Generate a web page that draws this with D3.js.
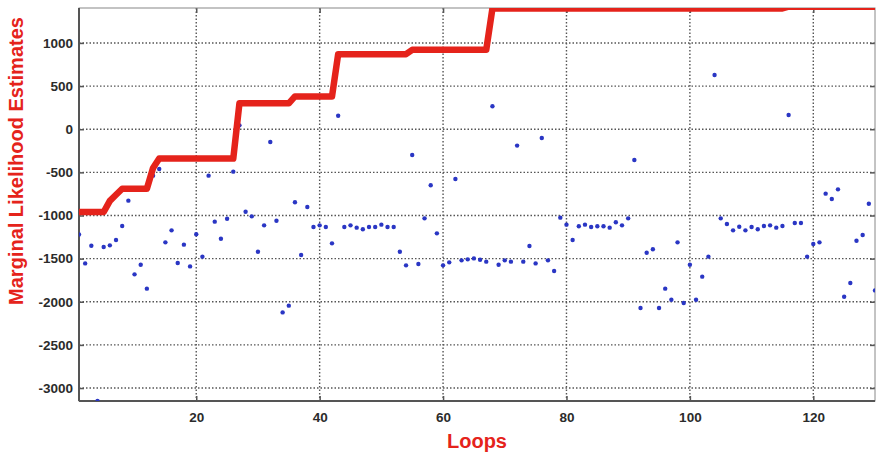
<!DOCTYPE html>
<html>
<head>
<meta charset="utf-8">
<script src="https://cdn.jsdelivr.net/npm/d3@7"></script>
<style>
  html, body { margin: 0; padding: 0; background: #fff; }
  svg { display: block; font-family: "Liberation Sans", Arial, sans-serif; }
</style>
</head>
<body>
<div id="chart"></div>
<script>
// Loop index for every estimate
const loops = d3.range(1, 131);

// Best marginal likelihood so far (red line), one value per loop
const bestEstimates = [
  -960, -960, -960, -960, -960, -830, -760, -690, -690, -690,
  -690, -690, -450, -340, -340, -340, -340, -340, -340, -340,
  -340, -340, -340, -340, -340, -340, 300, 300, 300, 300,
  300, 300, 300, 300, 300, 380, 380, 380, 380, 380,
  380, 380, 870, 870, 870, 870, 870, 870, 870, 870,
  870, 870, 870, 870, 920, 920, 920, 920, 920, 920,
  920, 920, 920, 920, 920, 920, 920, 1400, 1400, 1400,
  1400, 1400, 1400, 1400, 1400, 1400, 1400, 1400, 1400, 1400,
  1400, 1400, 1400, 1400, 1400, 1400, 1400, 1400, 1400, 1400,
  1400, 1400, 1400, 1400, 1400, 1400, 1400, 1400, 1400, 1400,
  1400, 1400, 1400, 1400, 1400, 1400, 1400, 1400, 1400, 1400,
  1400, 1400, 1400, 1400, 1400, 1420, 1420, 1420, 1420, 1420,
  1420, 1420, 1420, 1420, 1420, 1420, 1420, 1420, 1420, 1420
];

// Estimate of each loop (blue points)
const loopEstimates = [
  -1220, -1555, -1350, -3150, -1365, -1346, -1284, -1122, -828, -1682,
  -1570, -1848, -538, -461, -1311, -1172, -1551, -1338, -1590, -1218,
  -1477, -538, -1071, -1269, -1037, -492, 45, -956, -1010, -1420,
  -1114, -148, -1060, -2123, -2045, -847, -1458, -902, -1133, -1114,
  -1133, -1323, 157, -1133, -1114, -1141, -1160, -1133, -1133, -1106,
  -1133, -1133, -1420, -1578, -299, -1562, -1033, -650, -1207, -1578,
  -1543, -577, -1520, -1508, -1497, -1512, -1535, 266, -1570, -1520,
  -1535, -190, -1535, -1354, -1555, -101, -1520, -1643, -1025, -1106,
  -1284, -1125, -1106, -1133, -1125, -1125, -1141, -1079, -1114, -1033,
  -357, -2072, -1431, -1392, -2072, -1848, -1976, -1311, -2014, -1570,
  -1976, -1709, -1477, 629, -1033, -1099, -1172, -1130, -1172, -1133,
  -1160, -1122, -1114, -1141, -1122, 165, -1087, -1087, -1477, -1330,
  -1311, -747, -809, -697, -1941, -1783, -1292, -1226, -863, -1868
];

const xTicks = [20, 40, 60, 80, 100, 120];
const yTicks = [-3000, -2500, -2000, -1500, -1000, -500, 0, 500, 1000];

const w = 876;
const h = 455;
const margin = ({ top: 8, right: 1, bottom: 54, left: 79 });

const red = '#e5231b';
const blue = '#2a36c4';
const axisGrey = '#555';

// Set up scales
const xScale = d3.scaleLinear()
  .domain([1, 130])
  .range([margin.left, w - margin.right]);

const yScale = d3.scaleLinear()
  .domain([-3150, 1405])
  .range([h - margin.bottom, margin.top]);

// Draw containing svg
const svg = d3.select('#chart')
  .append('svg')
  .attr('width', w)
  .attr('height', h);

svg.append('clipPath')
  .attr('id', 'chart-area')
  .append('rect')
  .attr('x', margin.left)
  .attr('y', margin.top)
  .attr('width', w - margin.left - margin.right)
  .attr('height', h - margin.top - margin.bottom);

// Dotted grid
svg.append('g')
  .attr('class', 'grid')
  .selectAll('line.gy')
  .data(yTicks)
  .join('line')
  .attr('x1', margin.left)
  .attr('x2', w - margin.right)
  .attr('y1', d => yScale(d))
  .attr('y2', d => yScale(d));

svg.select('.grid')
  .selectAll('line.gx')
  .data(xTicks)
  .join(enter => enter.append('line').attr('class', 'gx'))
  .attr('x1', d => xScale(d))
  .attr('x2', d => xScale(d))
  .attr('y1', margin.top)
  .attr('y2', h - margin.bottom);

svg.selectAll('.grid line')
  .attr('stroke', '#555')
  .attr('stroke-width', 1.4)
  .attr('stroke-dasharray', '1.5,2');

// Axes, ticks point inwards; plain hyphen, no thousands comma
const plain = d => String(d);

const xAxis = d3.axisBottom(xScale)
  .tickValues(xTicks)
  .tickFormat(plain)
  .tickSize(-5)
  .tickPadding(11);

const yAxis = d3.axisLeft(yScale)
  .tickValues(yTicks)
  .tickFormat(plain)
  .tickSize(-5)
  .tickPadding(6);

svg.append('g')
  .classed('x-axis', true)
  .attr('transform', `translate(0, ${h - margin.bottom})`)
  .call(xAxis);

svg.append('g')
  .classed('y-axis', true)
  .attr('transform', `translate(${margin.left}, 0)`)
  .call(yAxis);

// top and right ticks
svg.append('g')
  .classed('x-top', true)
  .attr('transform', `translate(0, ${margin.top})`)
  .call(d3.axisTop(xScale).tickValues(xTicks).tickSize(-5).tickFormat(''));

svg.append('g')
  .classed('y-right', true)
  .attr('transform', `translate(${w - margin.right}, 0)`)
  .call(d3.axisRight(yScale).tickValues(yTicks).tickSize(-5).tickFormat(''));

svg.selectAll('.domain').remove();

svg.selectAll('.tick line')
  .attr('stroke', axisGrey)
  .attr('stroke-width', 1.5);

svg.selectAll('.tick text')
  .attr('fill', '#2b2b2b')
  .attr('font-size', 13.5)
  .attr('font-weight', 'bold')
  .attr('font-family', '"Liberation Sans", Arial, sans-serif');

// Frame
svg.append('rect')
  .attr('x', margin.left)
  .attr('y', margin.top)
  .attr('width', w - margin.left - margin.right)
  .attr('height', h - margin.top - margin.bottom)
  .attr('fill', 'none')
  .attr('stroke', '#888')
  .attr('stroke-width', 1);

svg.append('line')
  .attr('x1', margin.left).attr('x2', margin.left)
  .attr('y1', margin.top).attr('y2', h - margin.bottom)
  .attr('stroke', axisGrey).attr('stroke-width', 2);

svg.append('line')
  .attr('x1', margin.left).attr('x2', w - margin.right)
  .attr('y1', h - margin.bottom).attr('y2', h - margin.bottom)
  .attr('stroke', axisGrey).attr('stroke-width', 2);

// Blue points
svg.append('g')
  .attr('clip-path', 'url(#chart-area)')
  .selectAll('circle')
  .data(loops)
  .join('circle')
  .attr('cx', d => xScale(d))
  .attr('cy', (d, i) => yScale(loopEstimates[i]))
  .attr('r', 2.2)
  .attr('fill', blue);

// Red best-so-far line
const best = d3.line()
  .x(d => xScale(d))
  .y((d, i) => yScale(bestEstimates[i]));

svg.append('path')
  .datum(loops)
  .attr('clip-path', 'url(#chart-area)')
  .attr('fill', 'none')
  .attr('stroke', red)
  .attr('stroke-width', 6.5)
  .attr('stroke-linejoin', 'round')
  .attr('d', best);

// Axis titles
svg.append('text')
  .attr('x', (margin.left + w - margin.right) / 2)
  .attr('y', 448)
  .attr('text-anchor', 'middle')
  .attr('fill', red)
  .attr('font-size', 20)
  .attr('font-weight', 'bold')
  .text('Loops');

svg.append('text')
  .attr('transform', 'translate(23, 161) rotate(-90)')
  .attr('text-anchor', 'middle')
  .attr('fill', red)
  .attr('font-size', 20)
  .attr('font-weight', 'bold')
  .text('Marginal Likelihood Estimates');
</script>
</body>
</html>
